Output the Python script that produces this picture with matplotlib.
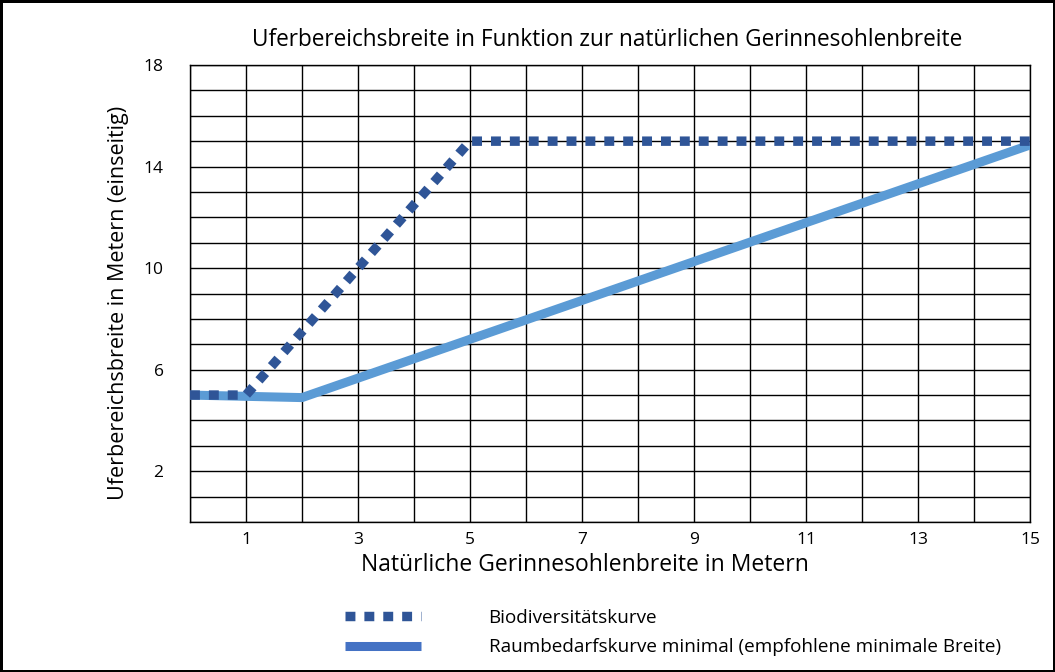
import numpy as np
import matplotlib.pyplot as plt

plt.rcParams['font.family'] = ['Open Sans', 'DejaVu Sans']

# data
bio_x = [0, 1, 5, 15]
bio_y = [5, 5, 15, 15]
raum_x = [0, 2, 15]
raum_y = [5, 4.9, 14.85]

x_ticks = [1, 3, 5, 7, 9, 11, 13, 15]
y_ticks = [2, 6, 10, 14, 18]

fig = plt.figure(figsize=(10.55, 6.72), dpi=100)
ax = fig.add_axes([190/1055, 1-522/672, 840/1055, 457/672])

ax.plot(raum_x, raum_y, color='#5B9BD5', lw=6.5, solid_capstyle='butt',
        label='Raumbedarfskurve minimal (empfohlene minimale Breite)', zorder=3)
ax.plot(bio_x, bio_y, color='#2F5597', lw=6.8, dashes=(1.05, 0.95),
        dash_capstyle='butt', label='Biodiversitätskurve', zorder=4)

ax.set_xlim(0, 15)
ax.set_ylim(0, 18)
ax.set_xticks(np.arange(0, 16, 1), minor=True)
ax.set_yticks(np.arange(0, 19, 1), minor=True)
ax.set_xticks(x_ticks)
ax.set_yticks(y_ticks)
ax.grid(True, which='both', color='black', lw=1)
ax.tick_params(which='both', length=0)
ax.tick_params(axis='x', pad=7, labelsize=12.5)
ax.tick_params(axis='y', pad=19, labelsize=12.5)
for s in ax.spines.values():
    s.set_color('black')
    s.set_linewidth(1)

ax.set_xlabel('Natürliche Gerinnesohlenbreite in Metern', fontsize=16.5)
ax.xaxis.set_label_coords(395/840, -31/457)
ax.set_ylabel('Uferbereichsbreite in Metern (einseitig)', fontsize=15.5)
ax.yaxis.set_label_coords(-61/840, 219/457)
fig.text(0.575, 0.94, 'Uferbereichsbreite in Funktion zur natürlichen Gerinnesohlenbreite',
         ha='center', va='center', fontsize=16.3)

h, l = ax.get_legend_handles_labels()
leg = fig.legend(h[::-1], l[::-1], loc='upper left', bbox_to_anchor=(328/1055, 1-592/672),
                 frameon=False, fontsize=13.6, handlelength=4.0, handletextpad=3.6,
                 labelspacing=0.6)
leg.legend_handles[1].set_color('#4472C4')

fig.patch.set_edgecolor('black')
fig.patch.set_linewidth(2.5)
fig.savefig('out.png', dpi=100, edgecolor='black')
